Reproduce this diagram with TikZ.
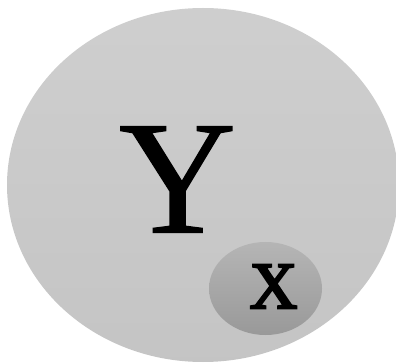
\documentclass[tikz,border=0pt]{standalone}
\usepackage{fontspec}
\setmainfont{Liberation Serif}
\newfontfamily\boldx{Liberation Serif}[FakeBold=3.5]
\newfontfamily\semiy{Liberation Serif}[FakeBold=0.8]
\begin{document}
\begin{tikzpicture}[x=1pt,y=-1pt,
  bigset/.style={top color=black!19,bottom color=black!23,draw=none},
  smallset/.style={top color=black!29,bottom color=black!40,draw=none},
  lbl/.style={inner sep=0pt,text=black}]
\useasboundingbox (0,0) rectangle (396,363);
\clip (0,0) rectangle (396,363);
\path[bigset] (203,185) ellipse [x radius=196, y radius=177];
\path[smallset] (265.5,288.5) ellipse [x radius=56.5, y radius=46.5];
\node[lbl,font=\semiy\fontsize{162}{170}\selectfont] (Y) at (177.5,179.5) {Y};
\node[lbl,font=\boldx\fontsize{66}{72}\selectfont] (X) at (273.5,286.5) {X};
\end{tikzpicture}
\end{document}
